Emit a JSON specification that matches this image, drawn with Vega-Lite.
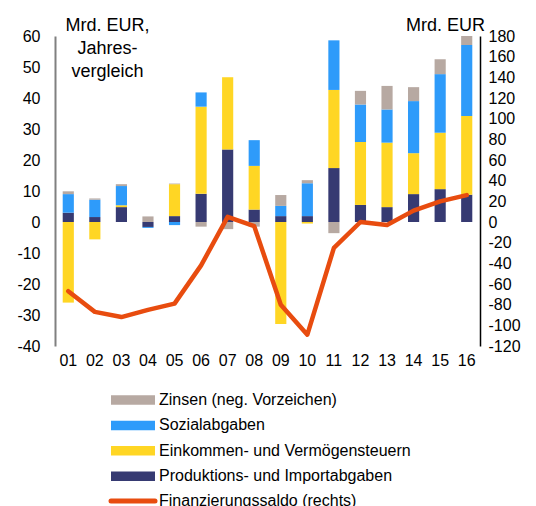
{
  "$schema": "https://vega.github.io/schema/vega-lite/v6.json",
  "width": 425,
  "height": 310,
  "autosize": {"type": "none"},
  "padding": {"left": 55, "top": 36, "right": 56, "bottom": 160},
  "config": {
    "font": "Liberation Sans",
    "view": {"stroke": null},
    "axis": {"labelFontSize": 16, "labelColor": "#000", "grid": false, "ticks": false, "titleFontSize": 18, "titleFontWeight": "normal", "titleColor": "#000", "labelOverlap": false, "labelExpr": "replace(datum.label, '−', '-')"},
    "legend": {"labelFontSize": 16, "labelColor": "#000", "padding": 0, "labelOffset": 18, "rowPadding": 9.4, "direction": "vertical", "labelLimit": 400, "symbolSize": 100}
  },
  "datasets": {
    "bars": [
      {"j": "01", "k": "Produktions- und Importabgaben", "v": 3.0},
      {"j": "01", "k": "Einkommen- und Vermögensteuern", "v": -26.0},
      {"j": "01", "k": "Sozialabgaben", "v": 6.0},
      {"j": "01", "k": "Zinsen (neg. Vorzeichen)", "v": 0.9},
      {"j": "02", "k": "Produktions- und Importabgaben", "v": 1.6},
      {"j": "02", "k": "Einkommen- und Vermögensteuern", "v": -5.6},
      {"j": "02", "k": "Sozialabgaben", "v": 5.6},
      {"j": "02", "k": "Zinsen (neg. Vorzeichen)", "v": 0.4},
      {"j": "03", "k": "Produktions- und Importabgaben", "v": 4.8},
      {"j": "03", "k": "Einkommen- und Vermögensteuern", "v": 0.6},
      {"j": "03", "k": "Sozialabgaben", "v": 6.2},
      {"j": "03", "k": "Zinsen (neg. Vorzeichen)", "v": 0.6},
      {"j": "04", "k": "Produktions- und Importabgaben", "v": -1.6},
      {"j": "04", "k": "Einkommen- und Vermögensteuern", "v": 0},
      {"j": "04", "k": "Sozialabgaben", "v": -0.3},
      {"j": "04", "k": "Zinsen (neg. Vorzeichen)", "v": 1.8},
      {"j": "05", "k": "Produktions- und Importabgaben", "v": 1.9},
      {"j": "05", "k": "Einkommen- und Vermögensteuern", "v": 10.3},
      {"j": "05", "k": "Sozialabgaben", "v": -1.0},
      {"j": "05", "k": "Zinsen (neg. Vorzeichen)", "v": 0.2},
      {"j": "06", "k": "Produktions- und Importabgaben", "v": 9.1},
      {"j": "06", "k": "Einkommen- und Vermögensteuern", "v": 28.1},
      {"j": "06", "k": "Sozialabgaben", "v": 4.6},
      {"j": "06", "k": "Zinsen (neg. Vorzeichen)", "v": -1.5},
      {"j": "07", "k": "Produktions- und Importabgaben", "v": 23.4},
      {"j": "07", "k": "Einkommen- und Vermögensteuern", "v": 23.3},
      {"j": "07", "k": "Sozialabgaben", "v": 0},
      {"j": "07", "k": "Zinsen (neg. Vorzeichen)", "v": -2.3},
      {"j": "08", "k": "Produktions- und Importabgaben", "v": 4.0},
      {"j": "08", "k": "Einkommen- und Vermögensteuern", "v": 14.1},
      {"j": "08", "k": "Sozialabgaben", "v": 8.3},
      {"j": "08", "k": "Zinsen (neg. Vorzeichen)", "v": -1.5},
      {"j": "09", "k": "Produktions- und Importabgaben", "v": 1.9},
      {"j": "09", "k": "Einkommen- und Vermögensteuern", "v": -32.9},
      {"j": "09", "k": "Sozialabgaben", "v": 3.3},
      {"j": "09", "k": "Zinsen (neg. Vorzeichen)", "v": 3.5},
      {"j": "10", "k": "Produktions- und Importabgaben", "v": 1.9},
      {"j": "10", "k": "Einkommen- und Vermögensteuern", "v": -0.5},
      {"j": "10", "k": "Sozialabgaben", "v": 10.6},
      {"j": "10", "k": "Zinsen (neg. Vorzeichen)", "v": 1.0},
      {"j": "11", "k": "Produktions- und Importabgaben", "v": 17.4},
      {"j": "11", "k": "Einkommen- und Vermögensteuern", "v": 25.2},
      {"j": "11", "k": "Sozialabgaben", "v": 16.0},
      {"j": "11", "k": "Zinsen (neg. Vorzeichen)", "v": -3.6},
      {"j": "12", "k": "Produktions- und Importabgaben", "v": 5.5},
      {"j": "12", "k": "Einkommen- und Vermögensteuern", "v": 20.3},
      {"j": "12", "k": "Sozialabgaben", "v": 12.1},
      {"j": "12", "k": "Zinsen (neg. Vorzeichen)", "v": 4.4},
      {"j": "13", "k": "Produktions- und Importabgaben", "v": 4.8},
      {"j": "13", "k": "Einkommen- und Vermögensteuern", "v": 20.8},
      {"j": "13", "k": "Sozialabgaben", "v": 10.7},
      {"j": "13", "k": "Zinsen (neg. Vorzeichen)", "v": 7.6},
      {"j": "14", "k": "Produktions- und Importabgaben", "v": 9.0},
      {"j": "14", "k": "Einkommen- und Vermögensteuern", "v": 13.2},
      {"j": "14", "k": "Sozialabgaben", "v": 16.8},
      {"j": "14", "k": "Zinsen (neg. Vorzeichen)", "v": 4.5},
      {"j": "15", "k": "Produktions- und Importabgaben", "v": 10.6},
      {"j": "15", "k": "Einkommen- und Vermögensteuern", "v": 18.2},
      {"j": "15", "k": "Sozialabgaben", "v": 18.9},
      {"j": "15", "k": "Zinsen (neg. Vorzeichen)", "v": 4.8},
      {"j": "16", "k": "Produktions- und Importabgaben", "v": 8.8},
      {"j": "16", "k": "Einkommen- und Vermögensteuern", "v": 25.4},
      {"j": "16", "k": "Sozialabgaben", "v": 22.9},
      {"j": "16", "k": "Zinsen (neg. Vorzeichen)", "v": 2.9}
    ],
    "saldo": [
      {"j": "01", "s": -67},
      {"j": "02", "s": -87},
      {"j": "03", "s": -92},
      {"j": "04", "s": -85},
      {"j": "05", "s": -79},
      {"j": "06", "s": -42},
      {"j": "07", "s": 5},
      {"j": "08", "s": -4},
      {"j": "09", "s": -80},
      {"j": "10", "s": -109},
      {"j": "11", "s": -25},
      {"j": "12", "s": 0},
      {"j": "13", "s": -3},
      {"j": "14", "s": 11},
      {"j": "15", "s": 20},
      {"j": "16", "s": 26}
    ]
  },
  "layer": [
    {
      "layer": [
        {
          "data": {"name": "bars"},
          "transform": [
            {"calculate": "indexof(['Produktions- und Importabgaben', 'Einkommen- und Vermögensteuern', 'Sozialabgaben', 'Zinsen (neg. Vorzeichen)'], datum.k)", "as": "o"}
          ],
          "mark": {"type": "bar", "width": {"band": 0.42}},
          "encoding": {
            "x": {"field": "j", "type": "ordinal", "scale": {"paddingInner": 0, "paddingOuter": 0}, "axis": {"title": null, "domain": false, "labelAngle": 0, "labelPadding": 6}},
            "y": {
              "field": "v", "type": "quantitative",
              "scale": {"domain": [-40, 60], "nice": false},
              "axis": {"orient": "left", "values": [-40, -30, -20, -10, 0, 10, 20, 30, 40, 50, 60], "labelOverlap": false, "title": ["Mrd. EUR,", "Jahres-", "vergleich"], "titleAngle": 0, "titleX": 52, "titleY": -6, "titleAlign": "center", "titleBaseline": "alphabetic", "titleLineHeight": 23, "domainColor": "#808080", "domainWidth": 2, "labelPadding": 15}
            },
            "order": {"field": "o", "type": "quantitative", "sort": "ascending"},
            "color": {
              "field": "k", "type": "nominal",
              "scale": {"domain": ["Produktions- und Importabgaben", "Einkommen- und Vermögensteuern", "Sozialabgaben", "Zinsen (neg. Vorzeichen)"], "range": ["#363A72", "#FFD624", "#2E9BFA", "#B7A9A2"]},
              "legend": {"values": ["Zinsen (neg. Vorzeichen)", "Sozialabgaben", "Einkommen- und Vermögensteuern", "Produktions- und Importabgaben"], "orient": "none", "legendX": 70, "legendY": 356, "title": null, "symbolType": "M-4.4,-0.95H4.4V0.95H-4.4Z", "symbolSize": 100, "symbolStrokeWidth": 0, "symbolOpacity": 1}
            }
          }
        },
        {
          "mark": {"type": "rule", "color": "#555555", "strokeWidth": 2},
          "encoding": {"y": {"datum": 0, "type": "quantitative", "axis": {"orient": "left", "values": [-40, -30, -20, -10, 0, 10, 20, 30, 40, 50, 60], "labelOverlap": false, "title": ["Mrd. EUR,", "Jahres-", "vergleich"], "titleAngle": 0, "titleX": 52, "titleY": -6, "titleAlign": "center", "titleBaseline": "alphabetic", "titleLineHeight": 23, "domainColor": "#808080", "domainWidth": 2, "labelPadding": 15}}}
        }
      ]
    },
    {
      "data": {"name": "saldo"},
      "mark": {"type": "line", "strokeWidth": 4.5, "strokeJoin": "round", "strokeCap": "round"},
      "encoding": {
        "x": {"field": "j", "type": "ordinal"},
        "y": {
          "field": "s", "type": "quantitative",
          "scale": {"domain": [-120, 180], "nice": false},
          "axis": {"orient": "right", "values": [-120, -100, -80, -60, -40, -20, 0, 20, 40, 60, 80, 100, 120, 140, 160, 180], "labelOverlap": false, "title": "Mrd. EUR", "titleAngle": 0, "titleX": -35, "titleY": -6, "titleAlign": "center", "titleBaseline": "alphabetic", "domainColor": "#000", "domainWidth": 1.5, "labelPadding": 8}
        },
        "stroke": {
          "datum": "Finanzierungssaldo (rechts)",
          "scale": {"range": ["#E84C0F"]},
          "legend": {"orient": "none", "legendX": 70, "legendY": 457, "title": null, "symbolType": "M-4.4,0H4.4", "symbolSize": 100, "symbolStrokeWidth": 5, "encode": {"symbols": {"update": {"strokeCap": {"value": "round"}, "fill": {"value": "transparent"}}}}}
        }
      }
    }
  ],
  "resolve": {"scale": {"y": "independent"}}
}
